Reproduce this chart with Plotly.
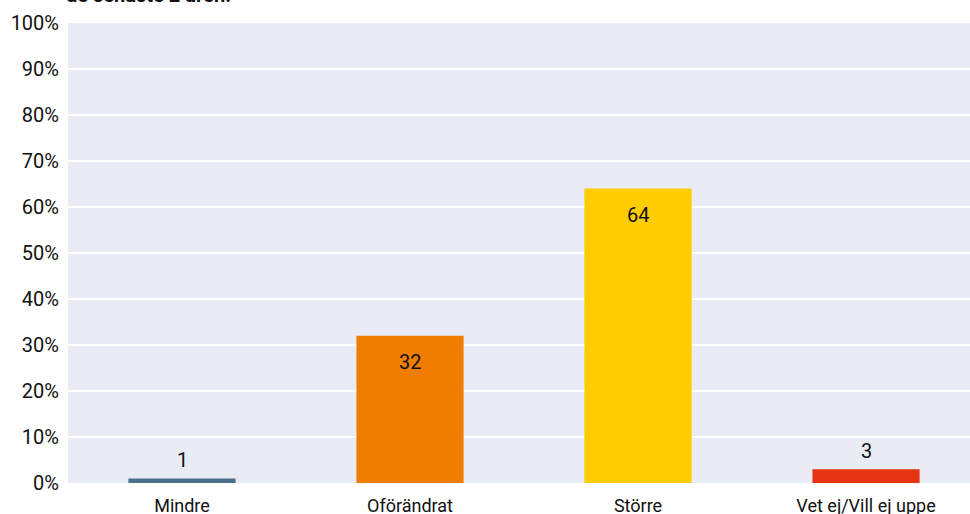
import plotly.graph_objects as go

categories = ["Mindre", "Oförändrat", "Större", "Vet ej/Vill ej uppe"]
values = [1, 32, 64, 3]
colors = ["#4a708b", "#f07d00", "#ffcc00", "#e63312"]
y_ticks = list(range(0, 101, 10))
y_tick_labels = [f"{t}%" for t in y_ticks]
title_text = "de senaste 2 åren."

FONT = "Roboto"
TXT = "#111111"

fig = go.Figure(
    go.Bar(
        x=categories,
        y=values,
        marker=dict(color=colors, line=dict(width=0)),
        width=0.47,
        hoverinfo="skip",
    )
)

# value labels: inside near top for tall bars, above for short bars
for c, v in zip(categories, values):
    inside = v > 10
    fig.add_annotation(
        x=c, y=v, xref="x", yref="y",
        text=str(v),
        showarrow=False,
        yanchor="middle",
        yshift=-26 if inside else 18,
        font=dict(family=FONT, size=20, color=TXT),
    )

fig.update_layout(
    width=970,
    height=514,
    margin=dict(l=68, r=0, t=23, b=31),
    paper_bgcolor="white",
    plot_bgcolor="#e9ecf4",
    showlegend=False,
    font=dict(family=FONT, size=18, color=TXT),
)
fig.update_xaxes(
    range=[-0.5, 3.456],
    showgrid=False,
    ticks="",
    automargin=False,
    ticklabelstandoff=10,
    tickfont=dict(family=FONT, size=18, color=TXT),
)
fig.update_yaxes(
    range=[0, 100],
    tickvals=y_ticks,
    ticktext=y_tick_labels,
    showgrid=True,
    gridcolor="white",
    gridwidth=2,
    zeroline=False,
    ticks="",
    automargin=False,
    ticklabelstandoff=8,
    tickfont=dict(family=FONT, size=20, color=TXT),
)
fig.add_annotation(
    text=f"<b>{title_text}</b>",
    xref="paper", yref="paper",
    x=0, y=1,
    xanchor="left", yanchor="bottom",
    xshift=-4, yshift=14,
    showarrow=False,
    font=dict(family=FONT, size=20, color=TXT),
)

fig.write_html("out.html")
